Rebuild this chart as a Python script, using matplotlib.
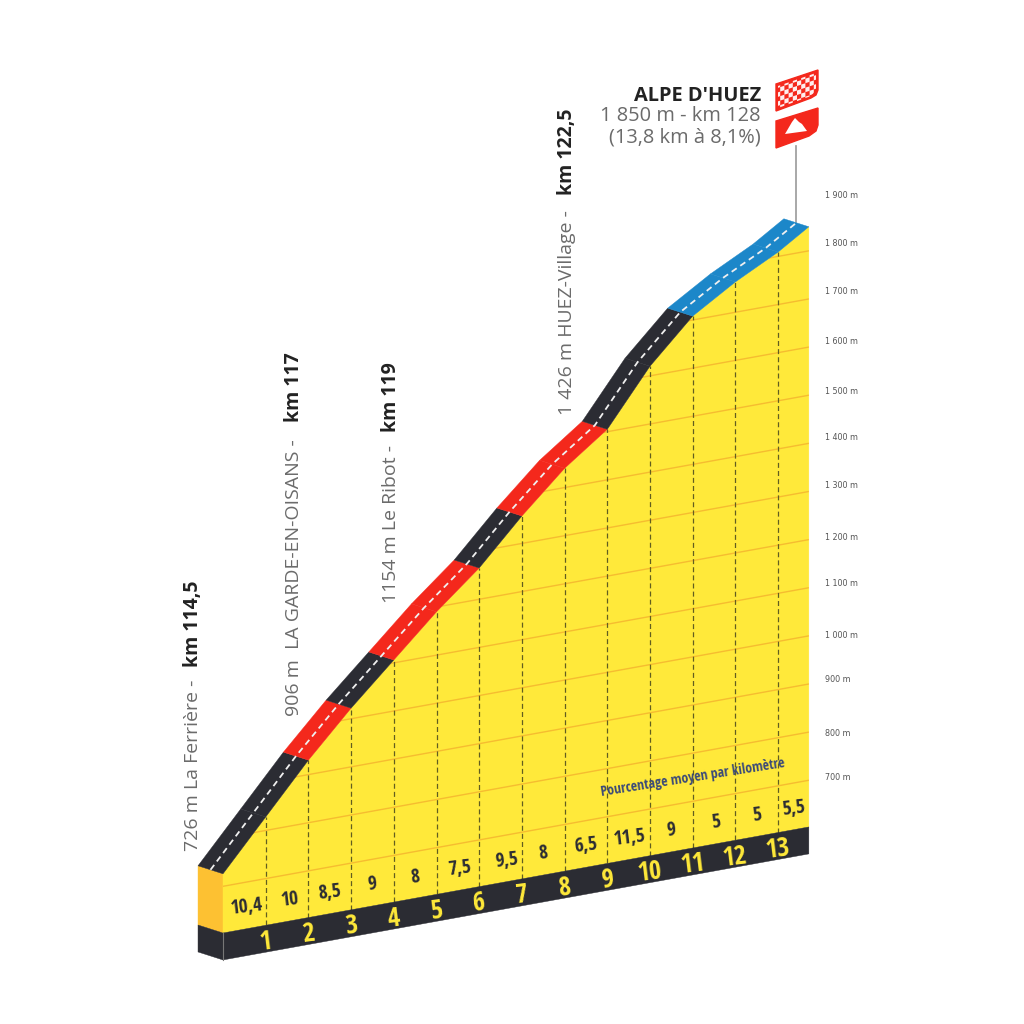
import matplotlib
matplotlib.use("Agg")
import matplotlib.pyplot as plt
from matplotlib import font_manager as fm
from matplotlib.patches import Polygon
from matplotlib.collections import PolyCollection
from matplotlib.transforms import Affine2D

# ---- data ----
km_marks = [0, 1, 2, 3, 4, 5, 6, 7, 8, 9, 10, 11, 12, 13, 13.72]
altitudes = [726, 828, 930, 1022, 1106, 1190, 1265, 1357, 1440, 1505, 1620, 1708, 1763, 1809, 1850]
segment_colors = ['#2b2c33', '#2b2c33', '#f4281c', '#2b2c33', '#f4281c', '#f4281c', '#2b2c33',
                  '#f4281c', '#f4281c', '#2b2c33', '#2b2c33', '#1c87c9', '#1c87c9', '#1c87c9']
pct_labels = ['10,4', '10', '8,5', '9', '8', '7,5', '9,5', '8', '6,5', '11,5', '9', '5', '5', '5,5']
pct_km = [0.55, 1.55, 2.5, 3.5, 4.5, 5.55, 6.65, 7.5, 8.5, 9.5, 10.5, 11.55, 12.5, 13.37]
km_numbers = list(range(1, 14))
grid_levels = list(range(700, 1900, 100))
scale_levels = ['1 900 m', '1 800 m', '1 700 m', '1 600 m', '1 500 m', '1 400 m', '1 300 m',
                '1 200 m', '1 100 m', '1 000 m', '900 m', '800 m', '700 m']
scale_y = [195, 244, 292, 342, 391, 437, 486, 538, 583, 636, 680, 733, 777]
base_alt = 603
band_alt = 547
depth_km = 0.585
depth_alt = 26

W = 1024
FONT = 'Open Sans'
available = {f.name for f in fm.fontManager.ttflist}
NARROW = next((n for n in ['Open Sans Condensed', 'Fira Sans Condensed', 'Roboto Condensed',
                           'Barlow Condensed', 'Archivo Narrow'] if n in available), 'Open Sans')

fig = plt.figure(figsize=(W / 100, W / 100), dpi=100, facecolor='white')
ax = fig.add_axes([0, 0, 1, 1])
ax.axis('off')
# x: 42.7 px per km, y: 0.4813 px per metre
ax.set_xlim(-223 / 42.7, (W - 223) / 42.7)
ax.set_ylim(base_alt - (W - 933) / 0.4813, base_alt + 933 / 0.4813)
# oblique projection: the profile climbs with distance
shear = Affine2D.from_values(1, 16.06, 0, 1, 0, 0) + ax.transData
px = Affine2D().scale(1 / W, -1 / W).translate(0, 1) + fig.transFigure


def add_poly(pts, color, z, **kw):
    p = Polygon(pts, closed=True, facecolor=color, edgecolor=color, linewidth=0.3,
                transform=shear, zorder=z, **kw)
    ax.add_patch(p)
    return p


k0, a0 = km_marks[0], altitudes[0]
kn = km_marks[-1]

# side faces
add_poly([(k0 - depth_km, base_alt + depth_alt), (k0, base_alt), (k0, a0), (k0 - depth_km, a0 + depth_alt)],
         '#fdc132', 1)
add_poly([(k0 - depth_km, band_alt + depth_alt), (k0, band_alt), (k0, base_alt),
          (k0 - depth_km, base_alt + depth_alt)], '#2b2c33', 1)

# front yellow
front = list(zip(km_marks, altitudes))
yellow = add_poly([(k0, base_alt)] + front + [(kn, base_alt)], '#ffe93a', 1)

# altitude lines
for lev in grid_levels:
    ln, = ax.plot([k0, kn], [lev, lev], color='#f6bc30', lw=1.0, transform=shear, zorder=2)
    ln.set_clip_path(yellow)

# km dashed lines
for k, a in zip(km_marks[1:-1], altitudes[1:-1]):
    ax.plot([k, k], [base_alt, a], color='#625e20', lw=0.9, dashes=(4, 2.5),
            transform=shear, zorder=3)

# bottom band
add_poly([(k0, band_alt), (kn, band_alt), (kn, base_alt), (k0, base_alt)], '#2b2c33', 4)
ax.plot([k0, k0], [band_alt, base_alt], color='#777777', lw=0.8, transform=shear, zorder=5)

# road
for i, c in enumerate(segment_colors):
    k1, k2 = km_marks[i], km_marks[i + 1]
    a1, a2 = altitudes[i], altitudes[i + 1]
    add_poly([(k1, a1), (k2, a2), (k2 - depth_km, a2 + depth_alt), (k1 - depth_km, a1 + depth_alt)], c, 5)

# road centre line
ax.plot([k - depth_km / 2 for k in km_marks], [a + depth_alt / 2 for a in altitudes],
        color='#f0f0f0', lw=1.3, dashes=(3.4, 2.4), transform=shear, zorder=6)

# pct labels
for k, t in zip(pct_km, pct_labels):
    ax.text(k, base_alt + 44, t, transform=shear, ha='center', va='center', rotation=7,
            family=NARROW, weight='bold', fontsize=14, color='#2b2c33', zorder=7)

# km numbers
for k in km_numbers:
    ax.text(k, band_alt + 22, str(k), transform=shear, ha='center', va='center', rotation=7,
            family=NARROW, weight='bold', fontsize=19, color='#ffe93a', zorder=7)

ax.text(693, 778, 'Pourcentage moyen par kilomètre', transform=px, ha='center', va='center',
        rotation=9, family=NARROW, weight='bold', fontsize=10, color='#3b4a78', zorder=7)

# scale labels
for y, t in zip(scale_y, scale_levels):
    ax.text(825, y, t, transform=px, ha='left', va='center', family='DejaVu Sans', fontsize=5.8, color='#555555')

# rotated place labels
GREY = '#6b6b6b'
place_x = [193, 294, 391, 567]
place_bottom = [851, 716, 603, 415]
place_names = ['726 m La Ferrière -', '906 m  LA GARDE-EN-OISANS -', '1154 m Le Ribot -', '1 426 m HUEZ-Village -']
bold_bottom = [667, 422, 432, 195]
bold_names = ['km 114,5', 'km 117', 'km 119', 'km 122,5']
for x, yb, n, yb2, b in zip(place_x, place_bottom, place_names, bold_bottom, bold_names):
    ax.text(x, yb, n, transform=px, rotation=90, ha='center', va='bottom', family=FONT,
            fontsize=14, color=GREY)
    ax.text(x, yb2, b, transform=px, rotation=90, ha='center', va='bottom', family=FONT,
            fontsize=14, weight='bold', color='#222222')

# finish label
ax.text(761, 96, "ALPE D'HUEZ", transform=px, ha='right', va='center', family=FONT, weight='bold',
        fontsize=14.4, color='#222222')
ax.text(761, 116, '1 850 m - km 128', transform=px, ha='right', va='center', family=FONT,
        fontsize=14.4, color=GREY)
ax.text(761, 137, '(13,8 km à 8,1%)', transform=px, ha='right', va='center', family=FONT,
        fontsize=14.4, color=GREY)

# pole
ax.plot([796, 796], [146, 222], color='#999999', lw=1.2, transform=px, zorder=3)

# flags
RED = '#f4281c'
flag1_pts = [(776, 84), (818, 70), (818, 90), (816, 95), (811, 98), (776, 111)]
ax.add_patch(Polygon(flag1_pts, closed=True, facecolor=RED, edgecolor=RED, lw=1, transform=px, zorder=5))
squares = []
cols, rows = 10, 6
dx = 42 / cols
dy = 27 / rows
slope = -14 / 42
for c in range(cols):
    for r in range(rows):
        if (c + r) % 2 == 0:
            x0 = 776 + c * dx
            y0 = 84 + slope * c * dx + r * dy
            squares.append([(x0, y0), (x0 + dx, y0 + slope * dx), (x0 + dx, y0 + slope * dx + dy), (x0, y0 + dy)])
pc = PolyCollection(squares, facecolors='#ffeeee', edgecolors='none', transform=px, zorder=6)
ax.add_collection(pc, autolim=False)
pc.set_clip_path(Polygon([(778, 86), (816, 73), (816, 90), (811, 96), (778, 108)], closed=True, transform=px))
ax.add_patch(Polygon([(776, 121), (818, 108), (818, 125), (816, 131), (809, 136), (776, 148)], closed=True,
                     facecolor=RED, edgecolor=RED, lw=1, transform=px, zorder=5))
ax.add_patch(Polygon([(785, 134), (792, 122), (795, 118), (799, 122), (802, 124), (807, 131)], closed=True,
                     facecolor='white', edgecolor='none', transform=px, zorder=6))

fig.savefig('out.png', dpi=100, facecolor='white')
